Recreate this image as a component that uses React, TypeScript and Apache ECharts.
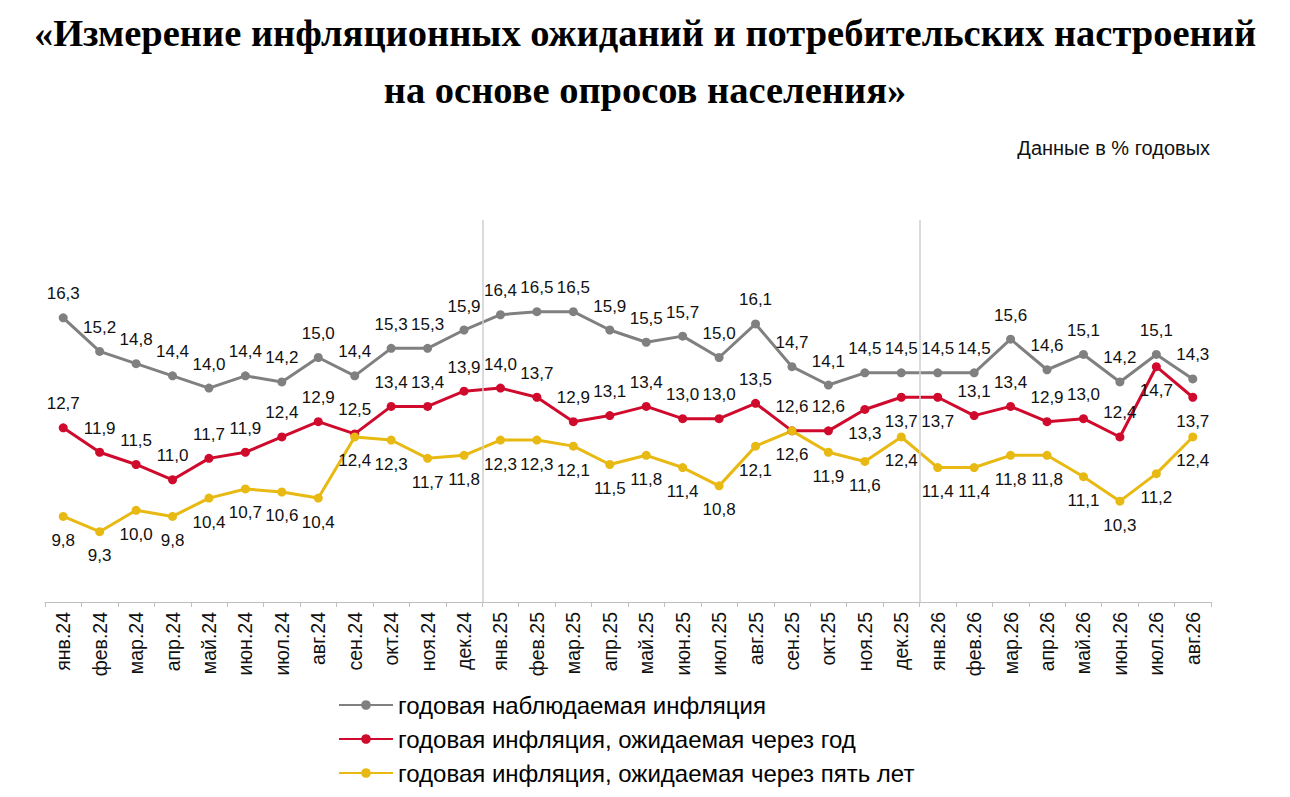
import React, { useEffect, useRef } from 'react'
import * as echarts from 'echarts'

const months = [
  'янв.24', 'фев.24', 'мар.24', 'апр.24', 'май.24', 'июн.24', 'июл.24', 'авг.24', 'сен.24', 'окт.24', 'ноя.24', 'дек.24',
  'янв.25', 'фев.25', 'мар.25', 'апр.25', 'май.25', 'июн.25', 'июл.25', 'авг.25', 'сен.25', 'окт.25', 'ноя.25', 'дек.25',
  'янв.26', 'фев.26', 'мар.26', 'апр.26', 'май.26', 'июн.26', 'июл.26', 'авг.26'
]

const observed = [
  16.3, 15.2, 14.8, 14.4, 14.0, 14.4, 14.2, 15.0, 14.4, 15.3, 15.3, 15.9,
  16.4, 16.5, 16.5, 15.9, 15.5, 15.7, 15.0, 16.1, 14.7, 14.1, 14.5, 14.5,
  14.5, 14.5, 15.6, 14.6, 15.1, 14.2, 15.1, 14.3
]

const expectedYear = [
  12.7, 11.9, 11.5, 11.0, 11.7, 11.9, 12.4, 12.9, 12.5, 13.4, 13.4, 13.9,
  14.0, 13.7, 12.9, 13.1, 13.4, 13.0, 13.0, 13.5, 12.6, 12.6, 13.3, 13.7,
  13.7, 13.1, 13.4, 12.9, 13.0, 12.4, 14.7, 13.7
]

const expectedFiveYears = [
  9.8, 9.3, 10.0, 9.8, 10.4, 10.7, 10.6, 10.4, 12.4, 12.3, 11.7, 11.8,
  12.3, 12.3, 12.1, 11.5, 11.8, 11.4, 10.8, 12.1, 12.6, 11.9, 11.6, 12.4,
  11.4, 11.4, 11.8, 11.8, 11.1, 10.3, 11.2, 12.4
]

// red labels that sit under the point
const redBelow = [22, 23, 24, 30, 31]
// year boundaries (between дек and янв)
const yearBreaks = [11.5, 23.5]

const seriesNames = [
  'годовая наблюдаемая инфляция',
  'годовая инфляция, ожидаемая через год',
  'годовая инфляция, ожидаемая через пять лет'
]

const titleLines = [
  '«Измерение инфляционных ожиданий и потребительских настроений',
  'на основе опросов населения»'
]

const fmt = (p: any) => Number(p.value).toFixed(1).replace('.', ',')

export default function App() {
  const chartRef: any = useRef()

  useEffect(() => {
    const myChart = echarts.init(chartRef.current, null, { renderer: 'svg' })
    const labelBase = {
      show: true,
      formatter: fmt,
      color: '#111',
      fontFamily: 'Liberation Sans, Arial',
      fontSize: 17,
      distance: 11
    }
    const titleStyle = {
      fontFamily: 'Liberation Serif, Times New Roman',
      fontWeight: 'bold',
      fontSize: 38.5,
      color: '#000'
    }
    const option = {
      animation: false,
      backgroundColor: '#fff',
      title: [
        { text: titleLines[0], left: 'center', top: 13, padding: 0, textStyle: titleStyle },
        { text: titleLines[1], left: 'center', top: 70, padding: 0, textStyle: titleStyle },
        {
          text: 'Данные в % годовых',
          right: 80,
          top: 138,
          padding: 0,
          textStyle: {
            fontFamily: 'Liberation Sans, Arial',
            fontWeight: 'normal',
            fontSize: 20,
            color: '#111'
          }
        }
      ],
      legend: {
        orient: 'vertical',
        left: 333,
        top: 688,
        itemWidth: 54,
        itemHeight: 12,
        itemGap: 10,
        textStyle: {
          fontFamily: 'Liberation Sans, Arial',
          fontSize: 24,
          color: '#000'
        },
        data: seriesNames
      },
      grid: { left: 45, right: 79, top: 220, bottom: 195 },
      xAxis: [
        {
          type: 'category',
          data: months,
          boundaryGap: true,
          axisLine: { lineStyle: { color: '#bfbfbf', width: 1 } },
          axisTick: { show: true, length: 5, lineStyle: { color: '#bfbfbf' } },
          axisLabel: {
            rotate: 90,
            interval: 0,
            margin: 10,
            color: '#111',
            fontFamily: 'Liberation Sans, Arial',
            fontSize: 19.5
          }
        },
        {
          type: 'value',
          min: -0.5,
          max: 31.5,
          show: false
        }
      ],
      yAxis: {
        type: 'value',
        min: 7,
        max: 19.5,
        show: false,
        splitLine: { show: false }
      },
      series: [
        {
          name: 'breaks',
          type: 'line',
          xAxisIndex: 1,
          data: [],
          silent: true,
          markLine: {
            symbol: 'none',
            silent: true,
            label: { show: false },
            lineStyle: { color: '#cfcfcf', width: 1.5, type: 'solid' },
            data: yearBreaks.map((v) => ({ xAxis: v }))
          }
        },
        {
          name: seriesNames[0],
          type: 'line',
          data: observed,
          color: '#808080',
          symbol: 'circle',
          symbolSize: 9,
          lineStyle: { width: 3, color: '#808080' },
          itemStyle: { color: '#808080' },
          label: { ...labelBase, position: 'top' }
        },
        {
          name: seriesNames[1],
          type: 'line',
          data: expectedYear.map((v, i) =>
            redBelow.includes(i) ? { value: v, label: { position: 'bottom' } } : v
          ),
          color: '#cf0a2c',
          symbol: 'circle',
          symbolSize: 9,
          lineStyle: { width: 3, color: '#cf0a2c' },
          itemStyle: { color: '#cf0a2c' },
          label: { ...labelBase, position: 'top' }
        },
        {
          name: seriesNames[2],
          type: 'line',
          data: expectedFiveYears,
          color: '#e8b912',
          symbol: 'circle',
          symbolSize: 9,
          lineStyle: { width: 3, color: '#e8b912' },
          itemStyle: { color: '#e8b912' },
          label: { ...labelBase, position: 'bottom' }
        }
      ]
    }
    myChart.setOption(option)
    return () => {
      myChart.dispose()
    }
  }, [])

  return <div style={{ width: 1290, height: 797, margin: -8 }} ref={chartRef} />
}
